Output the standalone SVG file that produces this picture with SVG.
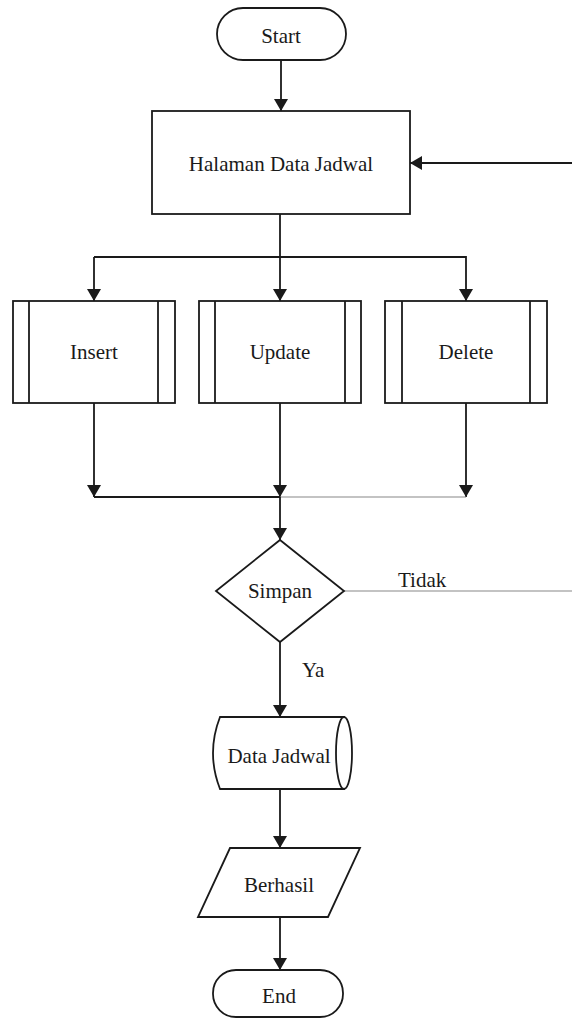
<svg xmlns="http://www.w3.org/2000/svg" width="572" height="1020" viewBox="0 0 572 1020">
<style>
.shape{fill:#fff;stroke:#1a1a1a;stroke-width:1.8}
.line{fill:none;stroke:#1a1a1a;stroke-width:1.8}
.thin{fill:none;stroke:#888;stroke-width:1.2}
.lbl{font-family:"Liberation Serif","Times New Roman",serif;font-size:21px;fill:#1a1a1a;text-anchor:middle}
.lbl-l{font-family:"Liberation Serif","Times New Roman",serif;font-size:21px;fill:#1a1a1a}
</style>
<defs>
<marker id="arr" viewBox="0 0 12 14" refX="12" refY="7" markerWidth="12" markerHeight="14" markerUnits="userSpaceOnUse" orient="auto">
<path d="M0,0 L12,7 L0,14 Z" fill="#1a1a1a"/>
</marker>
</defs>
<rect width="572" height="1020" fill="#fff"/>
<g id="connectors">
<line class="line" x1="281" y1="60" x2="281" y2="111" marker-end="url(#arr)"/>
<line class="line" x1="572" y1="163" x2="410" y2="163" marker-end="url(#arr)"/>
<line class="line" x1="280" y1="214" x2="280" y2="301" marker-end="url(#arr)"/>
<polyline class="line" points="94,257 466,257 466,301" marker-end="url(#arr)"/>
<line class="line" x1="94" y1="257" x2="94" y2="301" marker-end="url(#arr)"/>
<line class="line" x1="94" y1="403" x2="94" y2="497" marker-end="url(#arr)"/>
<line class="line" x1="280" y1="403" x2="280" y2="497" marker-end="url(#arr)"/>
<line class="line" x1="466" y1="403" x2="466" y2="497" marker-end="url(#arr)"/>
<line class="line" x1="94" y1="497" x2="280" y2="497"/>
<line class="thin" x1="280" y1="497" x2="466" y2="497"/>
<line class="line" x1="280" y1="497" x2="280" y2="540" marker-end="url(#arr)"/>
<line class="thin" x1="344" y1="591" x2="572" y2="591"/>
<text class="lbl-l" x="398" y="587">Tidak</text>
<line class="line" x1="280" y1="642" x2="280" y2="717" marker-end="url(#arr)"/>
<text class="lbl-l" x="302" y="677">Ya</text>
<line class="line" x1="280" y1="789" x2="280" y2="848" marker-end="url(#arr)"/>
<line class="line" x1="280" y1="917" x2="280" y2="970" marker-end="url(#arr)"/>
</g>
<g id="start">
<rect class="shape" x="217" y="8" width="129" height="52" rx="26"/>
<text class="lbl" x="281" y="43">Start</text>
</g>
<g id="halaman">
<rect class="shape" x="152" y="111" width="258" height="103"/>
<text class="lbl" x="281" y="171">Halaman Data Jadwal</text>
</g>
<g id="insert">
<rect class="shape" x="13" y="301" width="162" height="102"/>
<line class="line" x1="29" y1="301" x2="29" y2="403"/>
<line class="line" x1="158" y1="301" x2="158" y2="403"/>
<text class="lbl" x="94" y="359">Insert</text>
</g>
<g id="update">
<rect class="shape" x="199" y="301" width="162" height="102"/>
<line class="line" x1="215" y1="301" x2="215" y2="403"/>
<line class="line" x1="345" y1="301" x2="345" y2="403"/>
<text class="lbl" x="280" y="359">Update</text>
</g>
<g id="delete">
<rect class="shape" x="385" y="301" width="162" height="102"/>
<line class="line" x1="402" y1="301" x2="402" y2="403"/>
<line class="line" x1="530" y1="301" x2="530" y2="403"/>
<text class="lbl" x="466" y="359">Delete</text>
</g>
<g id="simpan">
<polygon class="shape" points="280,540 344,591 280,642 216,591"/>
<text class="lbl" x="280" y="598">Simpan</text>
</g>
<g id="data-jadwal">
<path class="shape" d="M344,717 L220,717 Q206,753 220,789 L344,789 Z"/>
<ellipse class="shape" cx="344" cy="753" rx="8" ry="36"/>
<text class="lbl" x="279" y="763">Data Jadwal</text>
</g>
<g id="berhasil">
<polygon class="shape" points="230,848 360,848 328,917 198,917"/>
<text class="lbl" x="279" y="892">Berhasil</text>
</g>
<g id="end">
<rect class="shape" x="213" y="970" width="130" height="47" rx="23"/>
<text class="lbl" x="279" y="1003">End</text>
</g>
</svg>
